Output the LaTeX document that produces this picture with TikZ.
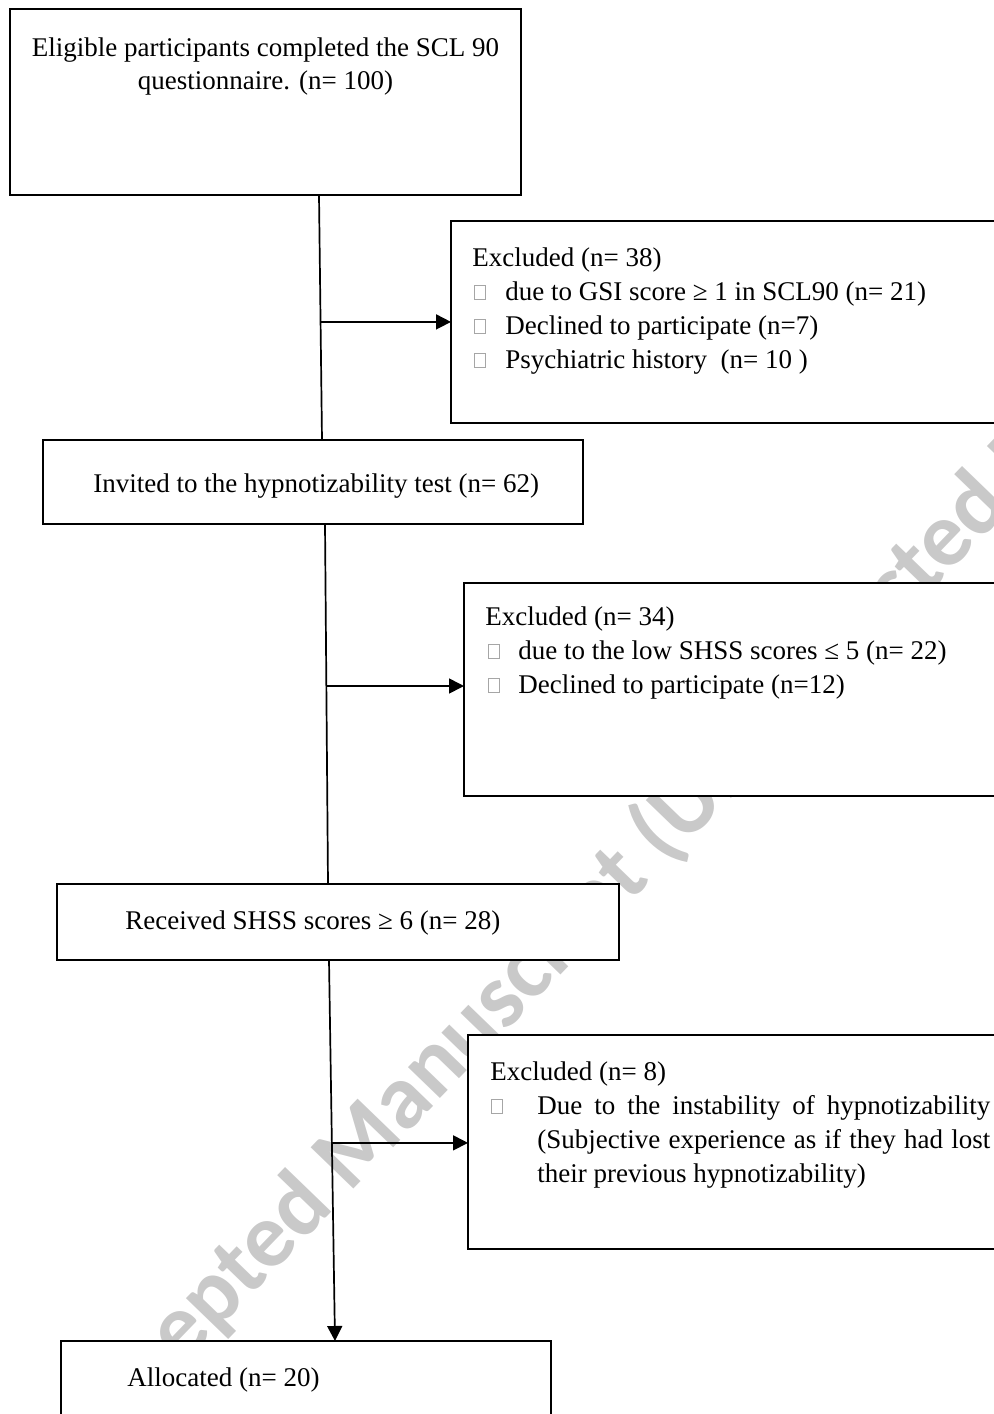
\documentclass[tikz,border=0pt]{standalone}
\usepackage{fontspec}
\setmainfont{Liberation Serif}
\newfontfamily\wmfont{Carlito}
\usetikzlibrary{arrows.meta,calc}
\hbadness=10000
\begin{document}
\begin{tikzpicture}[x=0.5pt,y=-0.5pt,
  box/.style={draw, line width=0.8pt, fill=white, rectangle, inner sep=0pt, outer sep=0pt, anchor=north west},
  txt/.style={anchor=base west, inner sep=0pt, font=\fontsize{13.5}{16}\selectfont},
  ctxt/.style={anchor=base, inner sep=0pt, font=\fontsize{13.5}{16}\selectfont},
  tofu/.style={draw=gray!70, line width=0.4pt, rectangle, inner sep=0pt, minimum width=5.5pt, minimum height=7pt, anchor=south},
  conn/.style={line width=0.85pt},
  arr/.style={line width=0.85pt, -{Triangle[length=7.5pt,width=7.5pt]}},
  wm/.style={anchor=base west, rotate=46, inner sep=0pt, text=gray!42, font=\wmfont\bfseries\fontsize{45.8}{46}\selectfont}
]
\useasboundingbox (0,0) rectangle (994,1414);
\clip (0,0) rectangle (994,1414);
% watermark
\node[wm] (wmark) at (90,1462) {Accepted Manuscript (Uncorrected Proof)};
% main boxes
\node[box, minimum width=255.5pt, minimum height=93pt] (b1) at (10,9) {};
\node[box, minimum width=270pt, minimum height=42pt] (b2) at (43,440) {};
\node[box, minimum width=281pt, minimum height=38pt] (b3) at (57,884) {};
\node[box, minimum width=245pt, minimum height=60pt] (b4) at (61,1341) {};
% exclusion boxes
\node[box, minimum width=324.5pt, minimum height=101pt] (e1) at (451,221) {};
\node[box, minimum width=318pt, minimum height=106.5pt] (e2) at (464,583) {};
\node[box, minimum width=316pt, minimum height=107pt] (e3) at (468,1035) {};
% texts
\node[ctxt] (t1a) at (265.5,56) {Eligible participants completed the SCL 90};
\node[ctxt] (t1b) at (265.5,89) {questionnaire. (n= 100)};
\node[txt] (t2) at (93,492) {Invited to the hypnotizability test (n= 62)};
\node[txt] (t3) at (125,929) {Received SHSS scores ≥ 6 (n= 28)};
\node[txt] (t4) at (127,1386) {Allocated (n= 20)};
% exclusion 1
\node[txt] (x1h) at (472,266) {Excluded (n= 38)};
\node[tofu] (q11) at (479.5,300) {};
\node[tofu] (q12) at (479.5,334) {};
\node[tofu] (q13) at (479.5,368) {};
\node[txt] (x11) at (505,300) {due to GSI score ≥ 1 in SCL90 (n= 21)};
\node[txt] (x12) at (505,334) {Declined to participate (n=7)};
\node[txt] (x13) at (505,368) {Psychiatric history\ \ (n= 10 )};
% exclusion 2
\node[txt] (x2h) at (485,625) {Excluded (n= 34)};
\node[tofu] (q21) at (494,659) {};
\node[tofu] (q22) at (494,693) {};
\node[txt] (x21) at (518,659) {due to the low SHSS scores ≤ 5 (n= 22)};
\node[txt] (x22) at (518,693) {Declined to participate (n=12)};
% exclusion 3
\node[txt] (x3h) at (490,1080) {Excluded (n= 8)};
\node[tofu] (q31) at (497,1114) {};
\node[txt] (x31) at (537,1114) {\makebox[226.5pt][s]{Due to the instability of hypnotizability}};
\node[txt] (x32) at (537,1148) {\makebox[226.5pt][s]{(Subjective experience as if they had lost}};
\node[txt] (x33) at (537,1182) {their previous hypnotizability)};
% connectors
\draw[conn] ($(b1.south west)+(309,0)$) coordinate (p1) -- ($(b2.north west)+(279,0)$) coordinate (p2);
\coordinate (m1) at ($(p1)!0.518!(p2)$);
\draw[arr] (m1) -- (m1 -| e1.west);
\draw[conn] ($(b2.south west)+(282,0)$) coordinate (p3) -- ($(b3.north west)+(271,0)$) coordinate (p4);
\coordinate (m2) at ($(p3)!0.45!(p4)$);
\draw[arr] (m2) -- (m2 -| e2.west);
\draw[arr] ($(b3.south west)+(272,0)$) coordinate (p5) -- ($(b4.north west)+(274,0)$) coordinate (p6);
\coordinate (m3) at ($(p5)!0.48!(p6)$);
\draw[arr] (m3) -- (m3 -| e3.west);
\end{tikzpicture}
\end{document}
